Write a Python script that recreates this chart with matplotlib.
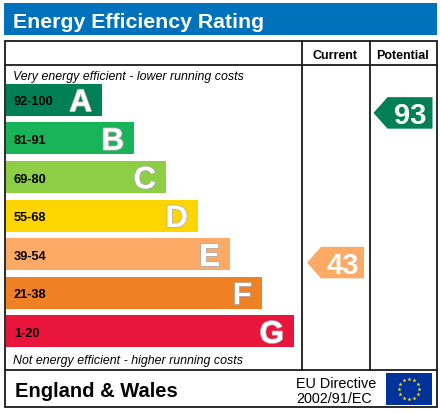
import numpy as np
import matplotlib.pyplot as plt
from matplotlib.patches import Rectangle, Polygon
import matplotlib.patheffects as pe

plt.rcParams['font.family'] = ['Liberation Sans', 'DejaVu Sans']

# データ
bands = ['A', 'B', 'C', 'D', 'E', 'F', 'G']
ranges = ['92-100', '81-91', '69-80', '55-68', '39-54', '21-38', '1-20']
lows = [92, 81, 69, 55, 39, 21, 1]
highs = [100, 91, 80, 68, 54, 38, 20]
colors = ['#008054', '#19b459', '#8dce46', '#ffd500', '#fcaa65', '#ef8023', '#e9153b']
current = 43
potential = 93

# レイアウト (ピクセル座標)
W, H = 440, 414
row0, pitch, bar_h = 100.7, 38.6, 32
bar_x0, bar_w0, bar_step = 6, 96, 32
box_l, box_r, box_t, box_b = 5, 437, 42, 408
col1, col2 = 302, 369.5
head_b, foot_t = 66, 371
lc = '#1a1a1a'

fig = plt.figure(figsize=(4.4, 4.14), dpi=100)
ax = fig.add_axes([0, 0, 1, 1])
ax.set_xlim(0, W)
ax.set_ylim(H, 0)
ax.axis('off')

# タイトル
ax.add_patch(Rectangle((4, 4), 433, 32, color='#0072bc', lw=0))
ax.text(12.7, 28.3, 'Energy Efficiency Rating', color='white', fontsize=15.3,
        fontweight='bold', va='baseline', ha='left')

# 枠
ax.add_patch(Rectangle((box_l, box_t), box_r - box_l, box_b - box_t,
                       fill=False, ec=lc, lw=1.3))
ax.plot([box_l, box_r], [head_b, head_b], color=lc, lw=1.3)
ax.plot([box_l, box_r], [foot_t, foot_t], color=lc, lw=1.3)
for cx in (col1, col2):
    ax.plot([cx, cx], [box_t, foot_t], color=lc, lw=1.3)

ax.text(335, 59, 'Current', fontsize=9, fontweight='bold', ha='center', va='baseline')
ax.text(402.5, 59, 'Potential', fontsize=9, fontweight='bold', ha='center', va='baseline')

ax.text(12.7, 80, 'Very energy efficient - lower running costs', fontsize=8.9,
        style='italic', va='baseline')
ax.text(12.7, 364, 'Not energy efficient - higher running costs', fontsize=8.9,
        style='italic', va='baseline')

# バー
ys = row0 + pitch * np.arange(len(bands))
widths = bar_w0 + bar_step * np.arange(len(bands))
ax.barh(ys, widths, left=bar_x0, height=bar_h, color=colors, lw=0)
for y, w, b, r in zip(ys, widths, bands, ranges):
    ax.text(14, y + 4.8, r, fontsize=9.2, fontweight='bold', va='baseline')
    ax.text(bar_x0 + w - 10, y + 11.5, b, fontsize=22.5, fontweight='bold',
            color='white', ha='right', va='baseline',
            path_effects=[pe.withStroke(linewidth=1.2, foreground='#b0b0b0')])


def arrow(value, x0, x1):
    i = next(k for k in range(len(bands)) if lows[k] <= value <= highs[k])
    frac = (value - lows[i]) / (highs[i] - lows[i] + 1)
    yc = ys[i] + (0.5 - frac) * 34
    h = 31.5
    pts = [(x0, yc), (x0 + 14, yc - h / 2), (x1, yc - h / 2),
           (x1, yc + h / 2), (x0 + 14, yc + h / 2)]
    ax.add_patch(Polygon(pts, closed=True, color=colors[i], lw=0))
    ax.text((x0 + 14 + x1) / 2, yc + 10.5, str(value), fontsize=21,
            fontweight='bold', color='white', ha='center', va='baseline')


arrow(current, 307, 364)
arrow(potential, 373.5, 432.5)

# フッター
ax.text(15, 396.7, 'England & Wales', fontsize=14.5, fontweight='bold', va='baseline')
ax.text(296, 387.7, 'EU Directive', fontsize=10.4, va='baseline')
ax.text(296, 403, '2002/91/EC', fontsize=10.4, va='baseline')

ax.add_patch(Rectangle((386, 374), 46, 32, color='#003399', lw=0))
ang = np.linspace(0, 2 * np.pi, 12, endpoint=False)
ax.scatter(409 + 10 * np.cos(ang), 390 + 10 * np.sin(ang), marker='*',
           s=10, color='#ffdd00', lw=0)

fig.savefig('out.png', dpi=100)
